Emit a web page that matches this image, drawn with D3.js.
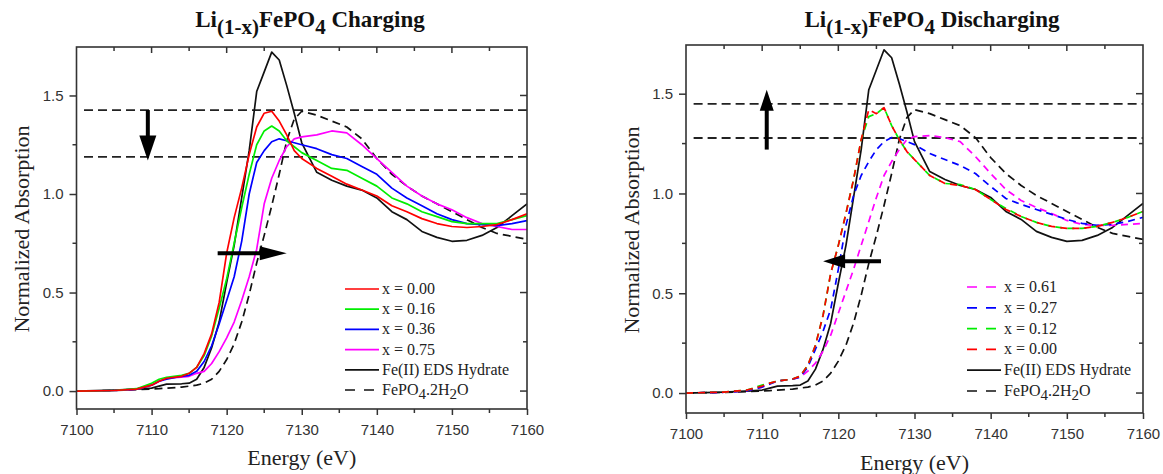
<!DOCTYPE html>
<html>
<head>
<meta charset="utf-8">
<script src="https://cdn.jsdelivr.net/npm/d3@7"></script>
<style>
  html, body { margin: 0; padding: 0; background: #fff; }
  svg { display: block; }
</style>
</head>
<body>
<svg id="chart" width="1163" height="474"></svg>
<script>
// Energy grid (eV) shared by every spectrum
const energy = [7100, 7105, 7108, 7110, 7111, 7112, 7114, 7115, 7116, 7117, 7118, 7119, 7120, 7121, 7122, 7123, 7124, 7125, 7126, 7127, 7128, 7129, 7130, 7132, 7134, 7136, 7138, 7140, 7142, 7144, 7146, 7148, 7150, 7152, 7154, 7156, 7158, 7160];

// Reference spectra
const feIIHydrate = [0, 0.005, 0.01, 0.015, 0.025, 0.035, 0.037, 0.04, 0.06, 0.12, 0.22, 0.35, 0.55, 0.74, 0.98, 1.22, 1.52, 1.62, 1.72, 1.68, 1.55, 1.41, 1.26, 1.11, 1.07, 1.04, 1.02, 0.98, 0.91, 0.87, 0.81, 0.78, 0.76, 0.765, 0.79, 0.83, 0.89, 0.95];
const fePO4Hydrate = [0, 0.003, 0.007, 0.01, 0.012, 0.015, 0.02, 0.025, 0.03, 0.04, 0.06, 0.10, 0.16, 0.24, 0.35, 0.49, 0.65, 0.79, 0.94, 1.10, 1.27, 1.38, 1.42, 1.40, 1.37, 1.34, 1.28, 1.18, 1.10, 1.04, 0.99, 0.95, 0.91, 0.87, 0.83, 0.80, 0.785, 0.77];

// Charging series
const chgX000 = [0, 0.003, 0.01, 0.03, 0.05, 0.065, 0.075, 0.09, 0.12, 0.19, 0.29, 0.45, 0.70, 0.88, 1.03, 1.20, 1.34, 1.41, 1.42, 1.37, 1.30, 1.22, 1.18, 1.13, 1.09, 1.05, 1.02, 0.99, 0.94, 0.91, 0.875, 0.85, 0.835, 0.83, 0.835, 0.845, 0.87, 0.90];
const chgX016 = [0, 0.003, 0.012, 0.04, 0.06, 0.07, 0.08, 0.09, 0.12, 0.18, 0.28, 0.42, 0.57, 0.75, 0.93, 1.10, 1.25, 1.32, 1.345, 1.32, 1.27, 1.24, 1.21, 1.17, 1.13, 1.12, 1.08, 1.04, 0.98, 0.95, 0.91, 0.885, 0.86, 0.85, 0.85, 0.85, 0.87, 0.89];
const chgX036 = [0, 0.003, 0.01, 0.03, 0.05, 0.06, 0.075, 0.08, 0.10, 0.15, 0.23, 0.34, 0.46, 0.58, 0.76, 1.00, 1.16, 1.22, 1.265, 1.28, 1.27, 1.26, 1.25, 1.23, 1.20, 1.18, 1.14, 1.10, 1.03, 0.98, 0.94, 0.90, 0.87, 0.85, 0.845, 0.84, 0.85, 0.865];
const chgX075 = [0, 0.003, 0.01, 0.03, 0.05, 0.065, 0.07, 0.075, 0.09, 0.10, 0.14, 0.20, 0.27, 0.35, 0.46, 0.58, 0.72, 0.95, 1.08, 1.17, 1.24, 1.28, 1.29, 1.30, 1.32, 1.31, 1.25, 1.18, 1.11, 1.04, 0.99, 0.95, 0.92, 0.88, 0.85, 0.835, 0.82, 0.82];

// Discharging series
const disX061 = [0, 0.004, 0.012, 0.03, 0.045, 0.06, 0.07, 0.08, 0.11, 0.15, 0.21, 0.29, 0.40, 0.51, 0.62, 0.74, 0.86, 0.98, 1.09, 1.16, 1.22, 1.27, 1.285, 1.29, 1.28, 1.26, 1.185, 1.10, 1.02, 0.965, 0.93, 0.90, 0.865, 0.845, 0.84, 0.84, 0.845, 0.85];
const disX027 = [0, 0.004, 0.012, 0.03, 0.045, 0.06, 0.07, 0.08, 0.13, 0.22, 0.31, 0.42, 0.62, 0.84, 0.99, 1.09, 1.16, 1.22, 1.26, 1.28, 1.275, 1.26, 1.245, 1.20, 1.17, 1.14, 1.10, 1.035, 0.975, 0.945, 0.92, 0.895, 0.87, 0.85, 0.84, 0.845, 0.86, 0.88];
const disX012 = [0, 0.005, 0.015, 0.04, 0.05, 0.06, 0.07, 0.085, 0.14, 0.24, 0.39, 0.60, 0.74, 0.90, 1.07, 1.27, 1.385, 1.40, 1.43, 1.34, 1.27, 1.21, 1.17, 1.09, 1.05, 1.045, 1.02, 0.97, 0.925, 0.885, 0.855, 0.835, 0.825, 0.825, 0.835, 0.855, 0.88, 0.91];
const disX000 = [0, 0.005, 0.015, 0.035, 0.05, 0.06, 0.07, 0.085, 0.14, 0.24, 0.39, 0.60, 0.74, 0.90, 1.07, 1.27, 1.42, 1.40, 1.43, 1.34, 1.27, 1.21, 1.17, 1.09, 1.05, 1.04, 1.02, 0.97, 0.92, 0.885, 0.855, 0.835, 0.825, 0.825, 0.835, 0.855, 0.88, 0.91];

// Axis ticks
const xTicks = [7100, 7110, 7120, 7130, 7140, 7150, 7160];
const yTicks = [0.0, 0.5, 1.0, 1.5];

// Horizontal guide levels (absorption)
const chgGuides = [1.426, 1.188];
const disGuides = [1.449, 1.278];

const SERIF = "'Liberation Serif', 'Times New Roman', serif";
const SANS = "'Liberation Sans', Arial, sans-serif";
const AXIS = "#333";

const svg = d3.select("#chart");

function drawPanel(cfg) {
  const x = d3.scaleLinear().domain([7100, 7160]).range([cfg.left, cfg.right]);
  const y = d3.scaleLinear().domain(cfg.yDomain).range([cfg.bottom, cfg.top]);
  const g = svg.append("g");

  // clip region for curves
  const clipId = "clip-" + cfg.id;
  svg.append("clipPath").attr("id", clipId).append("rect")
    .attr("x", cfg.left).attr("y", cfg.top)
    .attr("width", cfg.right - cfg.left).attr("height", cfg.bottom - cfg.top);

  // guide lines
  cfg.guides.forEach(v => {
    g.append("line")
      .attr("x1", x(7101)).attr("x2", x(7160))
      .attr("y1", y(v)).attr("y2", y(v))
      .attr("stroke", "#222").attr("stroke-width", 1.8)
      .attr("stroke-dasharray", "9,5");
  });

  const line = d3.line().x((d, i) => x(energy[i])).y(d => y(d));
  const plot = g.append("g").attr("clip-path", `url(#${clipId})`);
  cfg.series.forEach(s => {
    plot.append("path")
      .attr("d", line(s.values))
      .attr("fill", "none")
      .attr("stroke", s.color)
      .attr("stroke-width", 1.7)
      .attr("stroke-linejoin", "round")
      .attr("stroke-dasharray", s.dash || null);
  });

  // frame
  g.append("rect")
    .attr("x", cfg.left).attr("y", cfg.top)
    .attr("width", cfg.right - cfg.left).attr("height", cfg.bottom - cfg.top)
    .attr("fill", "none").attr("stroke", AXIS).attr("stroke-width", 1.6);

  // bottom axis (outward ticks) and top mirror (inward)
  const xMinor = d3.range(7105, 7160, 10);
  const bottom = g.append("g").attr("transform", `translate(0,${cfg.bottom})`)
    .call(d3.axisBottom(x).tickValues(xTicks).tickSize(6).tickPadding(9).tickFormat(d3.format("d")));
  bottom.select(".domain").remove();
  bottom.selectAll("line").attr("stroke", AXIS).attr("stroke-width", 1.5);
  bottom.selectAll("text").attr("font-family", SANS).attr("font-size", 15).attr("fill", "#333");
  xMinor.forEach(v => g.append("line").attr("x1", x(v)).attr("x2", x(v))
    .attr("y1", cfg.bottom).attr("y2", cfg.bottom + 4).attr("stroke", AXIS).attr("stroke-width", 1.5));
  d3.range(7105, 7160, 5).forEach(v => g.append("line").attr("x1", x(v)).attr("x2", x(v))
    .attr("y1", cfg.top).attr("y2", cfg.top + (v % 10 === 0 ? 6 : 4)).attr("stroke", AXIS).attr("stroke-width", 1.5));

  // left axis (outward ticks) and right mirror (inward)
  const leftAx = g.append("g").attr("transform", `translate(${cfg.left},0)`)
    .call(d3.axisLeft(y).tickValues(yTicks).tickSize(7).tickPadding(6).tickFormat(d3.format(".1f")));
  leftAx.select(".domain").remove();
  leftAx.selectAll("line").attr("stroke", AXIS).attr("stroke-width", 1.5);
  leftAx.selectAll("text").attr("font-family", SANS).attr("font-size", 15).attr("fill", "#333");
  [0.25, 0.75, 1.25].forEach(v => g.append("line").attr("x1", cfg.left - 4).attr("x2", cfg.left)
    .attr("y1", y(v)).attr("y2", y(v)).attr("stroke", AXIS).attr("stroke-width", 1.5));
  [0, 0.25, 0.5, 0.75, 1.0, 1.25, 1.5].forEach(v => g.append("line")
    .attr("x1", cfg.right - (v * 4 % 2 === 0 ? 7 : 4)).attr("x2", cfg.right)
    .attr("y1", y(v)).attr("y2", y(v)).attr("stroke", AXIS).attr("stroke-width", 1.5));

  // axis titles
  g.append("text")
    .attr("x", (cfg.left + cfg.right) / 2).attr("y", cfg.xTitleY)
    .attr("text-anchor", "middle").attr("font-family", SERIF).attr("font-size", 22).attr("fill", "#222")
    .text("Energy (eV)");
  g.append("text")
    .attr("transform", `translate(${cfg.yTitleX},${cfg.yTitleMid}) rotate(-90)`)
    .attr("text-anchor", "middle").attr("font-family", SERIF).attr("font-size", 22).attr("fill", "#222")
    .text("Normalized Absorption");

  // panel title with subscripts
  const t = g.append("text")
    .attr("x", cfg.titleX).attr("y", 27)
    .attr("text-anchor", "middle").attr("font-family", SERIF).attr("font-size", 23)
    .attr("font-weight", "bold").attr("fill", "#111");
  t.append("tspan").text("Li");
  t.append("tspan").attr("dy", 7).attr("font-size", 21).text("(1-x)");
  t.append("tspan").attr("dy", -7).text("FePO");
  t.append("tspan").attr("dy", 7).attr("font-size", 21).text("4");
  t.append("tspan").attr("dy", -7).text(" " + cfg.title);

  // legend
  const lg = g.append("g");
  cfg.series.slice().sort((a, b) => a.order - b.order).forEach((s, i) => {
    const yy = cfg.legendY + i * cfg.legendStep;
    lg.append("line")
      .attr("x1", cfg.legendX).attr("x2", cfg.legendX + (s.dash ? 30 : 34))
      .attr("y1", yy).attr("y2", yy)
      .attr("stroke", s.color).attr("stroke-width", 1.7)
      .attr("stroke-dasharray", s.dash ? "10,9" : null);
    const tx = lg.append("text")
      .attr("x", cfg.legendX + 37).attr("y", yy + 5)
      .attr("font-family", SERIF).attr("font-size", 16).attr("fill", "#222");
    if (s.formula) {
      tx.append("tspan").text("FePO");
      tx.append("tspan").attr("dy", 4).attr("font-size", 15).text("4");
      tx.append("tspan").attr("dy", -4).text(".2H");
      tx.append("tspan").attr("dy", 4).attr("font-size", 15).text("2");
      tx.append("tspan").attr("dy", -4).text("O");
    } else {
      tx.text(s.label);
    }
  });

  // arrows
  cfg.arrows.forEach(a => {
    const x1 = x(a.from[0]), y1 = y(a.from[1]);
    const x2 = x(a.to[0]), y2 = y(a.to[1]);
    const dx = x2 - x1, dy = y2 - y1, len = Math.hypot(dx, dy);
    const ux = dx / len, uy = dy / len;
    const hl = a.head, hw = a.headW / 2;
    const bx = x2 - ux * hl, by = y2 - uy * hl;
    g.append("line").attr("x1", x1).attr("y1", y1).attr("x2", bx + ux * 2).attr("y2", by + uy * 2)
      .attr("stroke", "#000").attr("stroke-width", 4);
    g.append("path")
      .attr("d", `M${x2},${y2} L${bx - uy * hw},${by + ux * hw} L${bx + uy * hw},${by - ux * hw} Z`)
      .attr("fill", "#000");
  });
}

drawPanel({
  id: "chg", left: 76.5, right: 527, top: 47, bottom: 409, yDomain: [-0.091, 1.746],
  title: "Charging", titleX: 310, xTitleY: 465, yTitleX: 29, yTitleMid: 229,
  guides: chgGuides,
  legendX: 345, legendY: 289, legendStep: 20.2,
  series: [
    { label: "Fe(II) EDS Hydrate", values: feIIHydrate, color: "#111", order: 4 },
    { label: "FePO4.2H2O", formula: true, values: fePO4Hydrate, color: "#111", dash: "8,5", order: 5 },
    { label: "x = 0.75", values: chgX075, color: "#ff00ff", order: 3 },
    { label: "x = 0.36", values: chgX036, color: "#0000ff", order: 2 },
    { label: "x = 0.16", values: chgX016, color: "#00ee00", order: 1 },
    { label: "x = 0.00", values: chgX000, color: "#ff0000", order: 0 }
  ],
  arrows: [
    { from: [7109.5, 1.426], to: [7109.5, 1.17], head: 25, headW: 17 },
    { from: [7118.8, 0.70], to: [7128.0, 0.70], head: 27, headW: 14 }
  ]
});

drawPanel({
  id: "dis", left: 686, right: 1143, top: 45, bottom: 413, yDomain: [-0.1, 1.744],
  title: "Discharging", titleX: 932, xTitleY: 470, yTitleX: 639, yTitleMid: 230,
  guides: disGuides,
  legendX: 967, legendY: 287, legendStep: 20.8,
  series: [
    { label: "Fe(II) EDS Hydrate", values: feIIHydrate, color: "#111", order: 4 },
    { label: "FePO4.2H2O", formula: true, values: fePO4Hydrate, color: "#111", dash: "8,5", order: 5 },
    { label: "x = 0.61", values: disX061, color: "#ff00ff", dash: "7,5", order: 0 },
    { label: "x = 0.27", values: disX027, color: "#0000ff", dash: "7,5", order: 1 },
    { label: "x = 0.12", values: disX012, color: "#00ee00", dash: "7,5", order: 2 },
    { label: "x = 0.00", values: disX000, color: "#ff0000", dash: "7,5", order: 3 }
  ],
  arrows: [
    { from: [7110.6, 1.22], to: [7110.6, 1.52], head: 21, headW: 14 },
    { from: [7125.6, 0.66], to: [7118.0, 0.66], head: 22, headW: 14 }
  ]
});
</script>
</body>
</html>
